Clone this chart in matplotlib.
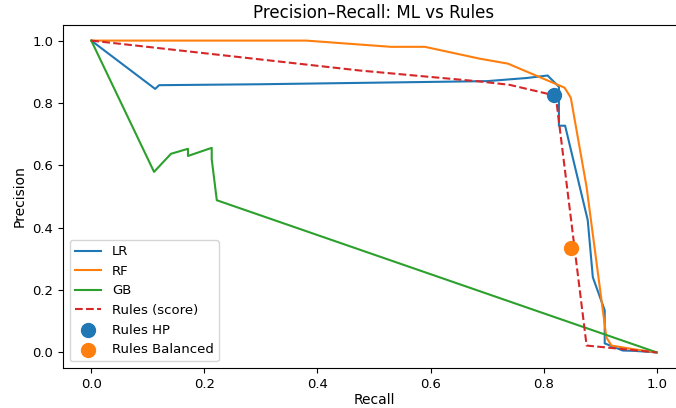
import matplotlib
matplotlib.use("Agg")
import matplotlib.pyplot as plt

lr_recall = [0.0, 0.113, 0.12, 0.3, 0.5, 0.7, 0.77, 0.807, 0.827, 0.827, 0.838, 0.878, 0.887, 0.908, 0.908, 0.94, 0.96, 1.0]
lr_prec   = [1.0, 0.845, 0.857, 0.860, 0.865, 0.870, 0.880, 0.888, 0.852, 0.727, 0.727, 0.424, 0.241, 0.135, 0.029, 0.006, 0.005, 0.0]

rf_recall = [0.0, 0.38, 0.53, 0.59, 0.687, 0.737, 0.837, 0.848, 0.876, 0.882, 0.911, 0.92, 0.96, 1.0]
rf_prec   = [1.0, 1.0, 0.98, 0.98, 0.942, 0.926, 0.849, 0.817, 0.53, 0.447, 0.048, 0.022, 0.01, 0.0]

gb_recall = [0.0, 0.111, 0.141, 0.171, 0.171, 0.213, 0.213, 0.222, 1.0]
gb_prec   = [1.0, 0.579, 0.637, 0.653, 0.630, 0.656, 0.620, 0.488, 0.0]

rules_recall = [0.0, 0.475, 0.687, 0.74, 0.815, 0.823, 0.876, 1.0]
rules_prec   = [1.0, 0.904, 0.869, 0.858, 0.826, 0.80, 0.022, 0.0]

hp_point = (0.818, 0.824)
bal_point = (0.848, 0.335)

fig = plt.figure(figsize=(6.76, 4.08), dpi=100)
ax = fig.add_axes([63/676, 1-368/408, 622/676, 343/408])
ax.plot(lr_recall, lr_prec, color="C0", label="LR")
ax.plot(rf_recall, rf_prec, color="C1", label="RF")
ax.plot(gb_recall, gb_prec, color="C2", label="GB")
ax.plot(rules_recall, rules_prec, "--", color="C3", label="Rules (score)")
ax.scatter([hp_point[0]], [hp_point[1]], s=100, color="C0", label="Rules HP", zorder=3)
ax.scatter([bal_point[0]], [bal_point[1]], s=100, color="C1", label="Rules Balanced", zorder=3)
ax.set_xlim(-0.05, 1.05)
ax.set_ylim(-0.05, 1.05)
ax.set_xticks([0.0, 0.2, 0.4, 0.6, 0.8, 1.0])
ax.set_yticks([0.0, 0.2, 0.4, 0.6, 0.8, 1.0])
ax.tick_params(labelsize=9.5)
ax.set_xlabel("Recall", fontsize=10, labelpad=2)
ax.set_ylabel("Precision", fontsize=10)
ax.set_title("Precision–Recall: ML vs Rules", fontsize=12, pad=5)
ax.legend(loc="lower left", fontsize=9.5)
fig.savefig("out.png", dpi=100)
